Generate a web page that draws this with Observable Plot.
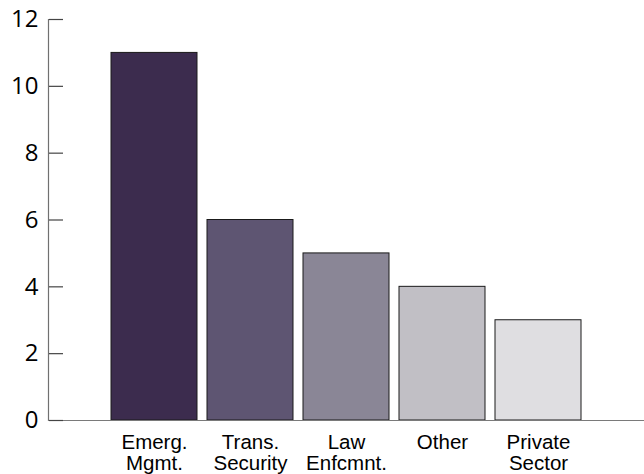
<!DOCTYPE html>
<html>
<head>
<meta charset="utf-8">
<script src="https://cdn.jsdelivr.net/npm/d3@7"></script>
<script src="https://cdn.jsdelivr.net/npm/@observablehq/plot@0.6"></script>
<style>
  html, body { margin: 0; padding: 0; background: #fff; }
</style>
</head>
<body>
<div id="chart"></div>
<script>
const categories = ["Emerg.\nMgmt.", "Trans.\nSecurity", "Law\nEnfcmnt.", "Other", "Private\nSector"];
const values = [11, 6, 5, 4, 3];
const barColors = ["#3c2c4e", "#5e5572", "#8a8696", "#c1bfc5", "#dfdee1"];
const yTicks = [0, 2, 4, 6, 8, 10, 12];

const data = categories.map((c, i) => ({category: c, value: values[i]}));

const chart = Plot.plot({
  width: 644,
  height: 474,
  marginLeft: 48,
  marginRight: 0,
  marginTop: 19,
  marginBottom: 54,
  style: {fontFamily: "'Liberation Sans', Arial, sans-serif", fontSize: "20px", background: "#fff", color: "#000"},
  x: {domain: categories, paddingInner: 0.104, paddingOuter: 0.656, label: null},
  y: {domain: [0, 12], label: null},
  color: {domain: categories, range: barColors},
  marks: [
    Plot.barY(data, {x: "category", y: "value", fill: "category", stroke: "#1a1a1a", strokeWidth: 1}),
    Plot.frame({anchor: "left", stroke: "#707070", strokeWidth: 1.2}),
    Plot.ruleY([0], {stroke: "#7a7a7a", strokeWidth: 1.2}),
    Plot.axisY({ticks: yTicks, tickSize: 0, tickPadding: 10,
      fontFamily: "'Open Sans', sans-serif", fontSize: 24, label: null}),
    Plot.axisY({ticks: yTicks, anchor: "right", frameAnchor: "left", text: null, tickSize: 14, stroke: "#444", strokeWidth: 1.2, label: null}),
    Plot.axisX({tickSize: 0, tickPadding: 13, lineHeight: 1.03, fontSize: 20.5,
      fontFamily: "'Liberation Sans', Arial, sans-serif", label: null})
  ]
});
document.getElementById("chart").appendChild(chart);
</script>
</body>
</html>
